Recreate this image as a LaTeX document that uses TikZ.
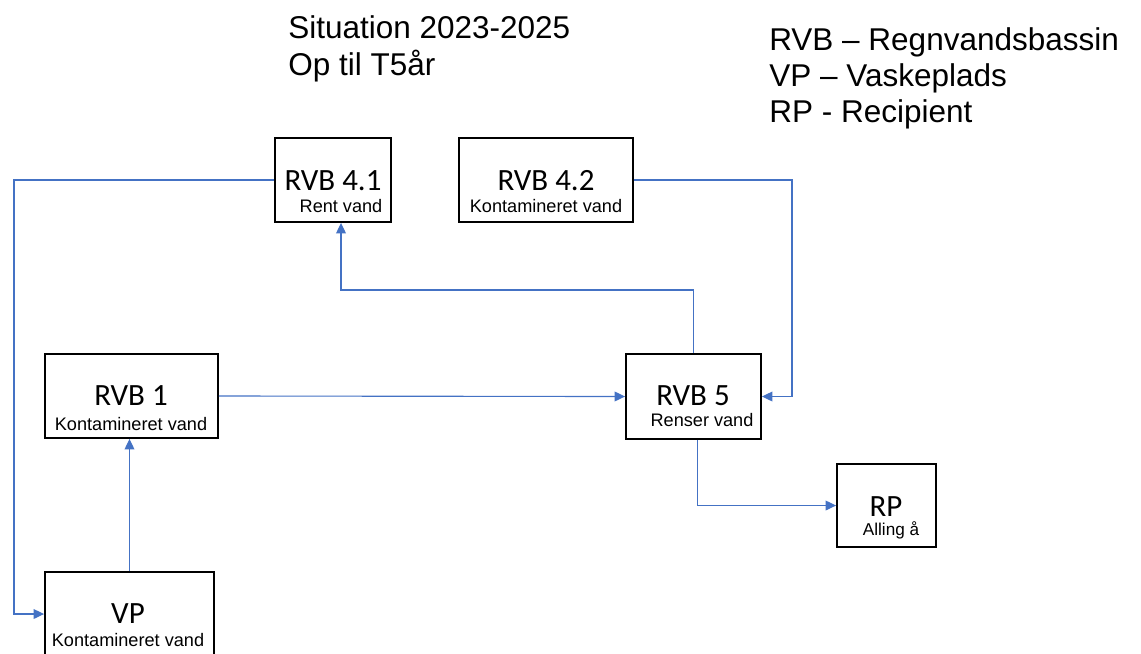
\documentclass[tikz,border=0pt]{standalone}
\usepackage{fontspec}
\setmainfont{Liberation Sans}
\newfontfamily\boxfont{Carlito}
\usepackage{tikz}
\usetikzlibrary{arrows.meta}
\definecolor{flowblue}{HTML}{4472C4}

\begin{document}
\begin{tikzpicture}[x=0.025cm, y=-0.025cm,
  box/.style={draw=black, line width=1.3pt, inner sep=0pt},
  title/.style={anchor=base, inner sep=0pt, font=\boxfont\fontsize{22}{24}\selectfont},
  sub/.style={anchor=base, inner sep=0pt, font=\fontsize{12.9}{14}\selectfont},
  head/.style={anchor=base west, inner sep=0pt, font=\fontsize{22.4}{25}\selectfont},
  flow/.style={draw=flowblue, line width=0.8pt, -{Triangle[length=7.5pt, width=7pt]}}]
\path[use as bounding box] (0,0) rectangle (1141,653);
\clip (0,0) rectangle (1141,653);

% headings
\node[head] (sit) at (288,38) {Situation 2023-2025};
\node[head] (optil) at (288,75) {Op til T5år};
\node[head] (legrvb) at (769,50) {RVB – Regnvandsbassin};
\node[head] (legvp) at (769,86) {VP – Vaskeplads};
\node[head] (legrp) at (769,122) {RP - Recipient};

% boxes
\node[box, minimum width=2.9cm, minimum height=2.1cm] (rvb41) at (333,180) {};
\node[title] (rvb41t) at (333,190) {RVB 4.1};
\node[sub] (rvb41s) at (341,212) {Rent vand};

\node[box, minimum width=4.35cm, minimum height=2.1cm] (rvb42) at (546,180) {};
\node[title] (rvb42t) at (546,190) {RVB 4.2};
\node[sub] (rvb42s) at (546,212) {Kontamineret vand};

\node[box, minimum width=4.325cm, minimum height=2.1cm] (rvb1) at (131.5,396) {};
\node[title] (rvb1t) at (131,405) {RVB 1};
\node[sub] (rvb1s) at (131,430) {Kontamineret vand};

\node[box, minimum width=3.375cm, minimum height=2.125cm] (rvb5) at (693.5,396.5) {};
\node[title] (rvb5t) at (693,405) {RVB 5};
\node[sub] (rvb5s) at (702,426) {Renser vand};

\node[box, minimum width=2.475cm, minimum height=2.075cm] (rp) at (886.5,505.5) {};
\node[title] (rpt) at (886,516) {RP};
\node[sub, font=\fontsize{12.2}{13}\selectfont] (rps) at (891,535) {Alling å};

\node[box, minimum width=4.225cm, minimum height=2.1cm] (vp) at (129.5,614) {};
\node[title] (vpt) at (128,623) {VP};
\node[sub] (vps) at (128,646) {Kontamineret vand};

% connectors
\coordinate (lbend) at (14,180);
\coordinate (rbend) at (792,180);
\coordinate (mbend) at (341,290);
\draw[flow] (rvb41.west) -- (lbend) |- (vp.west);
\draw[flow] (rvb42.east) -- (rbend) |- (rvb5.east);
\draw[flow] (rvb1.east) -- (rvb5.west);
\draw[flow] (rvb5.north) |- (mbend) -- (mbend |- rvb41.south);
\draw[flow] ([xshift=0.1cm]rvb5.south) |- (rp.west);
\draw[flow] (vp.north) -- (vp.north |- rvb1.south);
\end{tikzpicture}
\end{document}
